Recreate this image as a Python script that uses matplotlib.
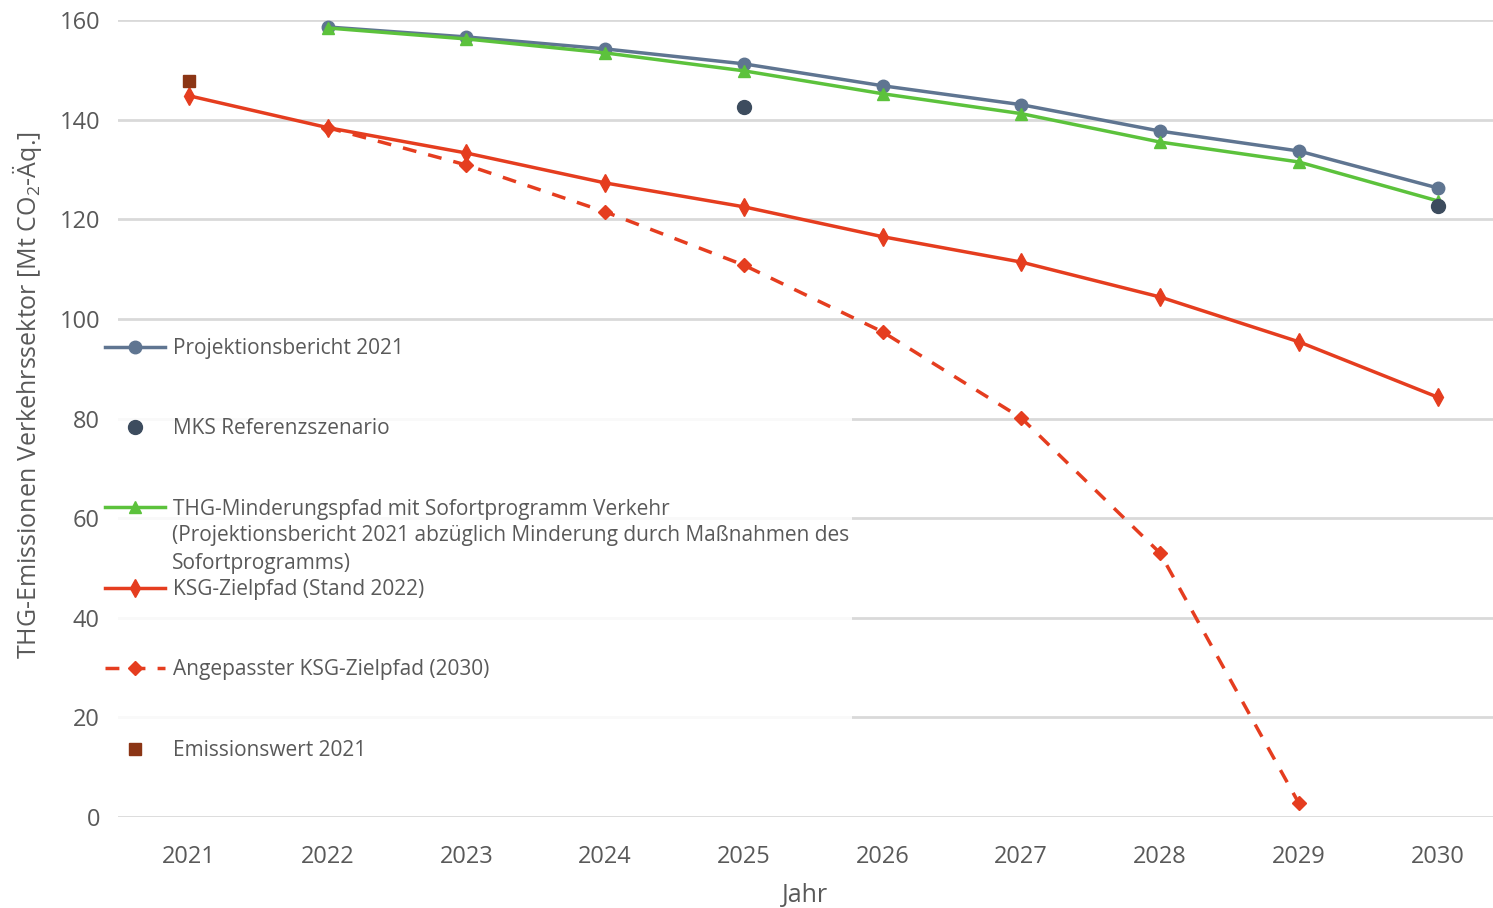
import numpy as np
import matplotlib.pyplot as plt
from matplotlib.patches import Rectangle

# Daten
jahre = [2021, 2022, 2023, 2024, 2025, 2026, 2027, 2028, 2029, 2030]
projektion = [np.nan, 158.6, 156.6, 154.2, 151.2, 146.8, 143.0, 137.7, 133.7, 126.3]
mks = [np.nan, np.nan, np.nan, np.nan, 142.6, np.nan, np.nan, np.nan, np.nan, 122.7]
minderung = [np.nan, 158.4, 156.2, 153.4, 149.8, 145.2, 141.2, 135.5, 131.5, 123.7]
ksg = [144.8, 138.4, 133.3, 127.3, 122.5, 116.5, 111.4, 104.4, 95.4, 84.3]
ksg_angepasst = [np.nan, 138.4, 130.9, 121.5, 110.8, 97.4, 80.1, 53.0, 2.8, np.nan]
emission_2021 = [147.8] + [np.nan] * 9

labels = ['Projektionsbericht 2021', 'MKS Referenzszenario',
          'THG-Minderungspfad mit Sofortprogramm Verkehr',
          'KSG-Zielpfad (Stand 2022)', 'Angepasster KSG-Zielpfad (2030)',
          'Emissionswert 2021']
label_extra = ['(Projektionsbericht 2021 abzüglich Minderung durch Maßnahmen des',
               'Sofortprogramms)']

plt.rcParams['font.family'] = ['Open Sans', 'DejaVu Sans']
plt.rcParams['mathtext.default'] = 'regular'
grau = '#595959'

fig = plt.figure(figsize=(14.93, 9.08), dpi=100)
ax = fig.add_axes([118 / 1493, 91 / 908, (1493 - 118) / 1493, 797 / 908])

l1, = ax.plot(jahre, projektion, color='#5f7591', lw=2.5, marker='o', ms=9, zorder=3)
l3, = ax.plot(jahre, minderung, color='#5cc23c', lw=2.5, marker='^', ms=9, zorder=4)
l5, = ax.plot(jahre, ksg_angepasst, color='#e53d1f', lw=2.5, ls=(0, (4, 3.5)),
              marker='D', ms=7, zorder=5)
l4, = ax.plot(jahre, ksg, color='#e53d1f', lw=2.5, marker='d', ms=9, zorder=6)
l2, = ax.plot(jahre, mks, color='#3d4c5e', lw=0, marker='o', ms=10, zorder=7)
l6, = ax.plot(jahre, emission_2021, color='#8b3515', lw=0, marker='s', ms=8, zorder=7)

ax.set_xlim(2020.49, 2030.4)
ax.set_ylim(0, 160)
ax.set_xticks(jahre)
ax.set_yticks(range(0, 161, 20))
ax.grid(axis='y', color='#d9d9d9', lw=2)
ax.set_axisbelow(True)
for s in ax.spines.values():
    s.set_visible(False)
ax.tick_params(length=0, labelsize=17, colors=grau)
ax.tick_params(axis='y', pad=13)
ax.tick_params(axis='x', pad=20)
ax.set_xlabel('Jahr', fontsize=18, color=grau, labelpad=10)
fig.text(27 / 1493, 1 - 395 / 908, 'THG-Emissionen Verkehrssektor [Mt CO$_2$-Äq.]',
         rotation=90, ha='center', va='center', fontsize=18, color=grau)

# halbtransparenter Hintergrund der Legende
fig.add_artist(Rectangle((100 / 1493, 1 - 782 / 908), 752 / 1493, 460 / 908,
                         transform=fig.transFigure, facecolor='white',
                         edgecolor='none', alpha=0.85, zorder=1))

leg = fig.legend([l1, l2, l3, l4, l5, l6], labels, loc='upper left',
                 bbox_to_anchor=(105 / 1493, 1 - 338 / 908), frameon=False,
                 fontsize=15, labelcolor=grau, handlelength=2.9,
                 handletextpad=0.35, labelspacing=2.85, borderpad=0,
                 borderaxespad=0)
leg.set_zorder(2)
for i, t in enumerate(label_extra):
    fig.text(172 / 1493, 1 - (536 + 27 * i) / 908, t, fontsize=15,
             color=grau, va='center', zorder=2)

plt.savefig('out.png', dpi=100)
